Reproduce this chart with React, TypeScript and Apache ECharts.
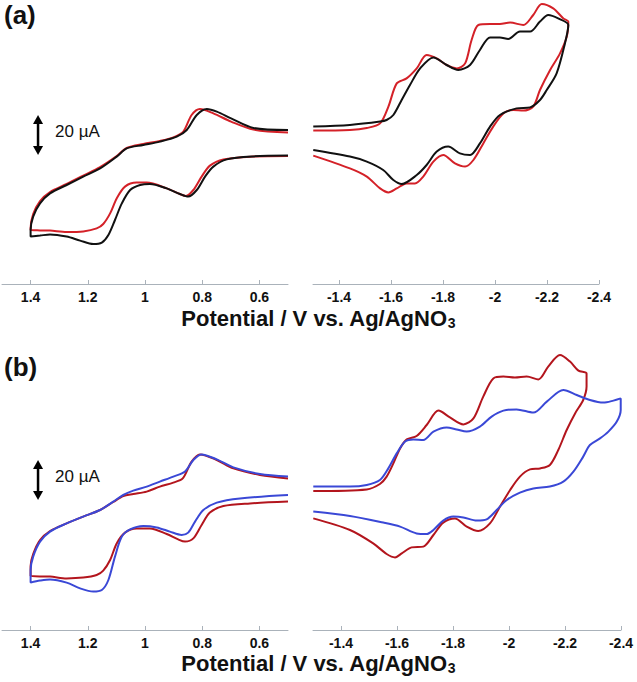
import React, { useEffect, useRef } from "react";
import * as echarts from "echarts";

// Tick values (V vs. Ag/AgNO3)
const leftTicks = [1.4, 1.2, 1.0, 0.8, 0.6];
const rightTicks = [-1.4, -1.6, -1.8, -2.0, -2.2, -2.4];

// Scale bars: [E, I_low, I_high] (µA)
const scaleA = [[1.374, 64.5, 84.5]];
const scaleB = [[1.374, 65, 85]];

// Panel (a) left – [E (V), I (µA, relative)]
const aLeftBlack = [
  [0.5, 77], [0.621, 78], [0.699, 82.8], [0.749, 86.2], [0.784, 87.5], [0.819, 84.5], [0.854, 77], [0.889, 73.7],
  [0.948, 71.2], [1.006, 69.5], [1.064, 67.8], [1.099, 63.7], [1.157, 57.8], [1.216, 53.7], [1.274, 49.5],
  [1.332, 45.3], [1.367, 40.3], [1.391, 33.7], [1.4, 27], [1.4, 23.7],
  [1.367, 24.2], [1.332, 24.8], [1.274, 23.7], [1.227, 21.7], [1.181, 20], [1.151, 20.7], [1.128, 24.5],
  [1.105, 32], [1.081, 40.3], [1.052, 47], [1.017, 49.5], [0.983, 50], [0.924, 47.8], [0.878, 45], [0.849, 43.7],
  [0.819, 47], [0.79, 53.7], [0.761, 58.7], [0.714, 62.3], [0.621, 63.8], [0.5, 64.2],
];
const aLeftRed = [
  [0.5, 75.7], [0.621, 77.2], [0.699, 81.2], [0.761, 85.3], [0.808, 87.5], [0.837, 84.5], [0.866, 76.2], [0.901, 73.3],
  [0.948, 71.5], [1.006, 70], [1.064, 68], [1.099, 64], [1.157, 58.5], [1.216, 54.2], [1.274, 50], [1.332, 46],
  [1.367, 41.5], [1.391, 35], [1.4, 28], [1.4, 27],
  [1.367, 26.8], [1.332, 26.7], [1.274, 26], [1.216, 26.3], [1.169, 27.8], [1.146, 30], [1.122, 35.3], [1.099, 42.8],
  [1.07, 48.7], [1.029, 50.7], [0.994, 50.7], [0.924, 47.8], [0.878, 45], [0.857, 44], [0.831, 47], [0.802, 53.7],
  [0.773, 59.2], [0.726, 62.3], [0.621, 63.7], [0.5, 64],
];

// Panel (a) right
const aRightBlack = [
  [-1.301, 78.7], [-1.442, 79.5], [-1.558, 81.2], [-1.583, 82], [-1.609, 84.5], [-1.641, 92], [-1.673, 99.5],
  [-1.712, 107.8], [-1.763, 113.3], [-1.814, 109.5], [-1.859, 107], [-1.904, 109.5], [-1.942, 117], [-1.981, 123.3],
  [-2.019, 123.3], [-2.051, 122.5], [-2.096, 126.2], [-2.135, 126.2], [-2.173, 131.2], [-2.205, 134.5],
  [-2.243, 132.8], [-2.282, 129.5],
  [-2.269, 120.3], [-2.237, 105.3], [-2.199, 97], [-2.173, 92], [-2.135, 88.3], [-2.083, 87.8], [-2.019, 84.5],
  [-1.981, 78.7], [-1.942, 70.3], [-1.904, 64.5], [-1.865, 65.3], [-1.82, 68.7], [-1.776, 66.2], [-1.737, 59.5],
  [-1.699, 54.5], [-1.641, 50], [-1.609, 52], [-1.57, 57], [-1.507, 61.2], [-1.442, 63.7], [-1.301, 67],
];
const aRightRed = [
  [-1.301, 76.7], [-1.442, 77], [-1.507, 78], [-1.558, 80.3], [-1.59, 88.7], [-1.622, 100.3], [-1.66, 102.8],
  [-1.699, 107.8], [-1.737, 114.5], [-1.776, 112.8], [-1.814, 109.5], [-1.853, 107.8], [-1.885, 110.3], [-1.91, 122],
  [-1.936, 129.5], [-1.981, 130], [-2.019, 130], [-2.058, 130.7], [-2.109, 129.5], [-2.147, 134.5], [-2.18, 140],
  [-2.224, 137.8], [-2.263, 132.8], [-2.282, 131.2],
  [-2.276, 123.7], [-2.25, 115.3], [-2.212, 107], [-2.173, 97], [-2.147, 88.7], [-2.109, 86.7], [-2.07, 87],
  [-2.032, 85.3], [-1.993, 78.7], [-1.955, 70.3], [-1.917, 62], [-1.885, 58.7], [-1.846, 60.3], [-1.801, 64.5],
  [-1.763, 61.2], [-1.724, 53.7], [-1.692, 50.3], [-1.66, 50.3], [-1.622, 47.8], [-1.59, 45.8], [-1.558, 47.8],
  [-1.507, 53.7], [-1.442, 57.8], [-1.301, 64.2],
];

// Panel (b) left
const bLeftBlue = [
  [0.5, 76.7], [0.598, 78], [0.691, 81.3], [0.749, 85.3], [0.802, 87.8], [0.831, 85], [0.86, 79.2], [0.901, 76.7],
  [0.948, 74.2], [0.994, 71.7], [1.041, 69.7], [1.076, 67.5], [1.111, 64.2], [1.157, 60], [1.216, 56.7],
  [1.274, 53.3], [1.332, 49.2], [1.367, 44.2], [1.391, 36.7], [1.4, 30], [1.4, 23.7],
  [1.367, 24.7], [1.332, 25.3], [1.274, 23.7], [1.227, 20.8], [1.181, 19.2], [1.151, 20], [1.128, 25], [1.105, 36.7],
  [1.081, 46.7], [1.052, 50.3], [1.006, 52], [0.959, 51.3], [0.913, 49.2], [0.872, 47.5], [0.849, 48.7],
  [0.825, 54.2], [0.796, 60], [0.749, 63.7], [0.668, 65.8], [0.5, 67.5],
];
const bLeftRed = [
  [0.5, 75.8], [0.598, 77.5], [0.691, 80.8], [0.749, 85], [0.808, 87.8], [0.837, 84.2], [0.868, 75.8], [0.901, 73.7],
  [0.948, 71.7], [0.994, 69.2], [1.041, 68], [1.076, 67], [1.111, 64], [1.157, 60], [1.216, 56.7], [1.274, 53.3],
  [1.332, 49.5], [1.367, 45], [1.391, 38], [1.4, 32], [1.4, 27],
  [1.332, 26.7], [1.274, 25.8], [1.216, 26.2], [1.169, 27.5], [1.146, 29.7], [1.122, 35], [1.099, 43.3], [1.07, 48.7],
  [1.029, 50.8], [0.983, 50.8], [0.924, 48], [0.884, 45.3], [0.86, 44.2], [0.831, 45.8], [0.802, 52.5],
  [0.773, 58.7], [0.726, 62], [0.633, 63.3], [0.5, 64.2],
];

// Panel (b) right
const bRightRed = [
  [-1.301, 69.5], [-1.492, 70.3], [-1.539, 73], [-1.563, 76.7], [-1.587, 83.3], [-1.611, 90.8], [-1.635, 95.3],
  [-1.67, 97], [-1.706, 102.5], [-1.748, 109.7], [-1.789, 106.3], [-1.837, 102.8], [-1.873, 105.8], [-1.908, 116.7],
  [-1.944, 125.8], [-1.98, 126.7], [-2.021, 126.2], [-2.063, 126.7], [-2.105, 125.3], [-2.14, 131.7],
  [-2.182, 137.5], [-2.218, 134.2], [-2.248, 129.7], [-2.277, 128.3],
  [-2.277, 121.7], [-2.265, 115], [-2.236, 108.3], [-2.206, 100], [-2.176, 90], [-2.146, 82.5], [-2.111, 80.8],
  [-2.075, 80.3], [-2.039, 76.7], [-2.004, 70], [-1.968, 61.7], [-1.932, 53.3], [-1.89, 49.5], [-1.849, 51.7],
  [-1.807, 55.8], [-1.765, 53.7], [-1.73, 47.5], [-1.694, 41.7], [-1.652, 41.3], [-1.617, 38.3], [-1.593, 36.3],
  [-1.563, 38], [-1.515, 43.3], [-1.432, 50], [-1.301, 55.8],
];
const bRightBlue = [
  [-1.301, 71.7], [-1.432, 71.7], [-1.492, 72.5], [-1.539, 75], [-1.569, 80.8], [-1.599, 88.3], [-1.629, 94.2],
  [-1.658, 95.3], [-1.694, 95], [-1.73, 99.2], [-1.777, 101.3], [-1.813, 100.3], [-1.849, 99.2], [-1.896, 101.7],
  [-1.938, 106.7], [-1.98, 109.7], [-2.027, 110.3], [-2.087, 108.7], [-2.135, 114.2], [-2.194, 120],
  [-2.242, 117.5], [-2.289, 115], [-2.337, 113.7], [-2.373, 114.7], [-2.399, 115.8],
  [-2.399, 110], [-2.385, 104.2], [-2.355, 99.2], [-2.325, 95.8], [-2.289, 92.5], [-2.265, 86.7], [-2.23, 79.2],
  [-2.194, 74.2], [-2.146, 71.7], [-2.087, 70.8], [-2.039, 68.7], [-1.992, 65], [-1.956, 60], [-1.92, 55.3],
  [-1.885, 54.7], [-1.837, 56.3], [-1.801, 56.7], [-1.765, 54.7], [-1.73, 50], [-1.706, 48], [-1.67, 48.3],
  [-1.611, 51.7], [-1.551, 53.7], [-1.432, 57], [-1.301, 59.2],
];

const FONT = "'Liberation Sans', Arial, Helvetica, sans-serif";
const AXIS_COLOR = "#aab2ba";
const BLACK = "#111111";
const RED_A = "#d42128";
const RED_B = "#b3151d";
const BLUE = "#3a48d6";

const fmt = (v: number) => String(parseFloat(Number(v).toFixed(1)));

function xAxisFor(gridIndex: number, min: number, max: number, ticks: number[]) {
  return {
    type: "value",
    gridIndex,
    min,
    max,
    inverse: true,
    splitLine: { show: false },
    axisLine: { show: true, onZero: false, lineStyle: { color: AXIS_COLOR, width: 1 } },
    axisTick: { show: true, inside: true, length: 4, customValues: ticks, lineStyle: { color: AXIS_COLOR, width: 1 } },
    axisLabel: {
      show: true,
      customValues: ticks,
      formatter: (v: number) => fmt(v),
      fontFamily: FONT,
      fontWeight: "bold",
      fontSize: 14,
      color: "#111",
      margin: 6,
    },
  };
}

function yAxisFor(gridIndex: number, max: number) {
  return { type: "value", gridIndex, min: 0, max, show: false };
}

function lineSeries(data: number[][], axis: number, color: string, z: number) {
  return {
    type: "line",
    xAxisIndex: axis,
    yAxisIndex: axis,
    data,
    showSymbol: false,
    symbol: "none",
    smooth: 0.3,
    clip: false,
    z,
    lineStyle: { color, width: 2 },
  };
}

const renderScale = (_params: any, api: any) => {
  const p0 = api.coord([api.value(0), api.value(1)]);
  const p1 = api.coord([api.value(0), api.value(2)]);
  const x = p0[0];
  const yb = p0[1];
  const yt = p1[1];
  const h = 9;
  const w = 5;
  const amount = Math.round(api.value(2) - api.value(1));
  return {
    type: "group",
    children: [
      { type: "line", shape: { x1: x, y1: yt + h - 1, x2: x, y2: yb - h + 1 }, style: { stroke: "#000", lineWidth: 2.5 } },
      { type: "polygon", shape: { points: [[x, yt], [x - w, yt + h], [x + w, yt + h]] }, style: { fill: "#000" } },
      { type: "polygon", shape: { points: [[x, yb], [x - w, yb - h], [x + w, yb - h]] }, style: { fill: "#000" } },
      {
        type: "text",
        x: x + 17,
        y: (yt + yb) / 2 - 4,
        style: { text: `${amount} µA`, fontSize: 17, fontFamily: FONT, fill: "#111", verticalAlign: "middle", align: "left" },
      },
    ],
  };
};

function scaleSeries(data: number[][], axis: number) {
  return {
    type: "custom",
    xAxisIndex: axis,
    yAxisIndex: axis,
    data,
    encode: { x: 0, y: [1, 2] },
    renderItem: renderScale,
    clip: false,
    z: 5,
  };
}

function titleText(y: number) {
  return {
    type: "text",
    left: "center",
    top: y,
    style: {
      text: "Potential / V vs. Ag/AgNO{sub|3}",
      fontFamily: FONT,
      fontWeight: "bold",
      fontSize: 22,
      fill: "#111",
      rich: {
        sub: { fontFamily: FONT, fontWeight: "bold", fontSize: 14, fill: "#111", verticalAlign: "bottom", padding: [10, 0, 0, 0] },
      },
    },
  };
}

export default function App() {
  const ref = useRef<HTMLDivElement>(null);
  useEffect(() => {
    if (!ref.current) return;
    const chart = echarts.init(ref.current, undefined, { renderer: "svg" });
    chart.setOption({
      animation: false,
      backgroundColor: "#ffffff",
      grid: [
        { left: 2, top: 0, width: 286, height: 284 },
        { left: 313, top: 0, width: 286, height: 284 },
        { left: 2, top: 350, width: 286, height: 280 },
        { left: 313, top: 350, width: 308, height: 280 },
      ],
      xAxis: [
        xAxisFor(0, 0.5, 1.5, leftTicks),
        xAxisFor(1, -2.4, -1.3, rightTicks),
        xAxisFor(2, 0.5, 1.5, leftTicks),
        xAxisFor(3, -2.4, -1.3, rightTicks),
      ],
      yAxis: [yAxisFor(0, 142), yAxisFor(1, 142), yAxisFor(2, 140), yAxisFor(3, 140)],
      series: [
        lineSeries(aLeftRed, 0, RED_A, 2),
        lineSeries(aLeftBlack, 0, BLACK, 3),
        lineSeries(aRightRed, 1, RED_A, 2),
        lineSeries(aRightBlack, 1, BLACK, 3),
        lineSeries(bLeftRed, 2, RED_B, 2),
        lineSeries(bLeftBlue, 2, BLUE, 3),
        lineSeries(bRightRed, 3, RED_B, 2),
        lineSeries(bRightBlue, 3, BLUE, 3),
        scaleSeries(scaleA, 0),
        scaleSeries(scaleB, 2),
      ],
      graphic: [
        { type: "text", left: 4, top: 2, style: { text: "(a)", fontFamily: FONT, fontWeight: "bold", fontSize: 26, fill: "#111" } },
        { type: "text", left: 4, top: 354, style: { text: "(b)", fontFamily: FONT, fontWeight: "bold", fontSize: 26, fill: "#111" } },
        titleText(307),
        titleText(652),
      ],
    });
    return () => chart.dispose();
  }, []);
  return (
    <div
      ref={ref}
      style={{ position: "absolute", left: 0, top: 0, width: 637, height: 682, background: "#fff" }}
    />
  );
}
